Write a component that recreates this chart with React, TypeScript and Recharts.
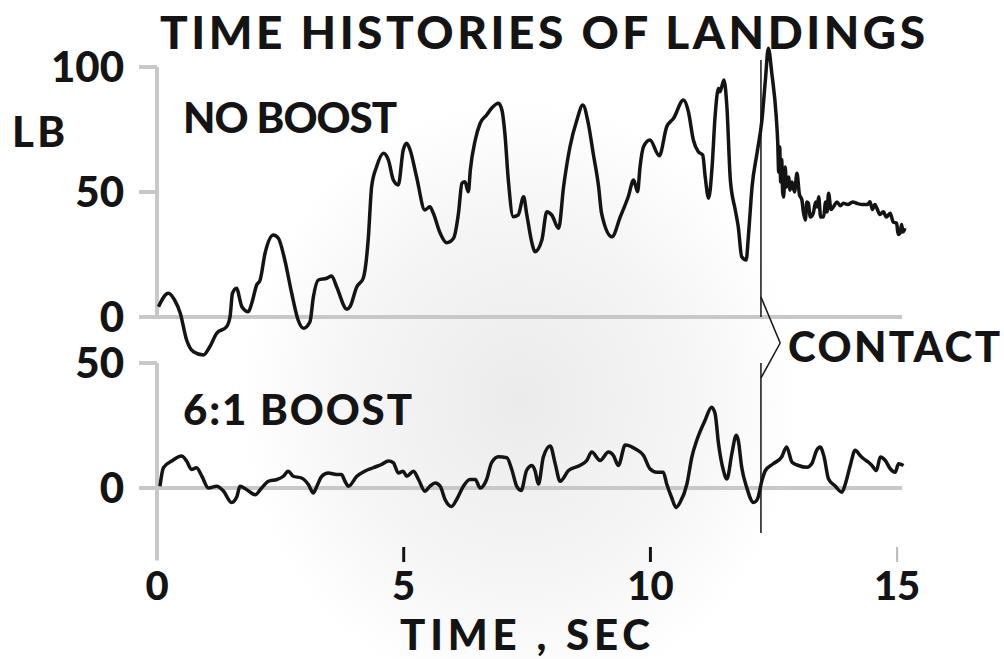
import React from "react";
import { LineChart, Line, XAxis, YAxis, ReferenceLine } from "recharts";

// NO BOOST trace (time in sec, force in lb)
const noBoostT = [
  0.03, 0.23, 0.35, 0.47, 0.6, 0.74, 0.94, 1.07, 1.21, 1.41, 1.48, 1.53, 1.61, 1.72, 1.85, 1.92,
  2.02, 2.09, 2.19, 2.36, 2.46, 2.59, 2.73, 2.86, 2.97, 3.1, 3.17, 3.27, 3.44, 3.54, 3.64, 3.85,
  3.91, 4.05, 4.18, 4.28, 4.35, 4.45, 4.59, 4.69, 4.79, 4.89, 4.99, 5.06, 5.13, 5.26, 5.43, 5.53,
  5.6, 5.74, 5.87, 6.01, 6.11, 6.18, 6.24, 6.31, 6.35, 6.45, 6.55, 6.68, 6.78, 6.92, 6.99, 7.05,
  7.12, 7.22, 7.32, 7.43, 7.49, 7.6, 7.66, 7.8, 7.9, 8.0, 8.14, 8.24, 8.37, 8.51, 8.63, 8.74,
  8.84, 8.95, 9.01, 9.22, 9.39, 9.55, 9.66, 9.74, 9.79, 9.86, 9.99, 10.18, 10.33, 10.47, 10.67, 10.77,
  10.87, 10.97, 11.06, 11.11, 11.18, 11.25, 11.31, 11.38, 11.41, 11.49, 11.55, 11.62, 11.72, 11.78, 11.85, 11.94,
  11.99, 12.06, 12.16, 12.26, 12.33, 12.39, 12.46, 12.55, 12.58, 12.6, 12.62, 12.64, 12.66, 12.68, 12.7, 12.73,
  12.76, 12.8, 12.83, 12.87, 12.92, 12.97, 13.02, 13.07, 13.1, 13.14, 13.17, 13.2, 13.24, 13.3, 13.35, 13.38,
  13.41, 13.45, 13.51, 13.55, 13.58, 13.61, 13.66, 13.71, 13.78, 13.85, 13.91, 14.0, 14.1, 14.18, 14.3, 14.4,
  14.45, 14.5, 14.55, 14.59, 14.65, 14.72, 14.78, 14.86, 14.92, 14.99, 15.02, 15.06, 15.09, 15.12, 15.16,
];
const noBoostLb = [
  4.1, 9.5, 7, 1.6, -9.2, -13.9, -15.2, -11.9, -6.5, -3.9, 0.1, 9.5, 11.5, 4.1, 2.1, 5.5,
  12.8, 14.8, 25.5, 32.8, 31.5, 22.8, 9.5, -1.2, -4.5, -1.9, 8.1, 14.8, 15.5, 16.4, 12.1, 3.1,
  4.1, 12.1, 15.5, 30.8, 52.1, 60.1, 65.5, 62.8, 54.8, 52.8, 66.8, 69.5, 66.8, 56.1, 42.8, 44.1,
  41.5, 33.5, 29.7, 31.5, 41.5, 53.5, 54.1, 50.1, 58.8, 70.8, 77.5, 80.8, 83.5, 85.5, 82.8, 73.5,
  54.8, 40.1, 40.8, 48.1, 41.5, 29.5, 26.1, 30.8, 42.1, 40.8, 35.5, 52.1, 68.1, 78.8, 84.8, 77.5,
  65.5, 52.1, 41.5, 32.1, 40.1, 48.1, 54.8, 50.1, 60.1, 68.1, 70.8, 64.5, 76.1, 79.5, 86.8, 82.1,
  70.8, 66.1, 64.8, 56.1, 47.5, 60.1, 80.1, 91.5, 90.1, 94.8, 84.1, 54.8, 42.8, 36.1, 24.1, 22.8,
  33.5, 52.1, 65.5, 78.8, 94.8, 107.5, 97.5, 80.1, 70, 58, 68, 54, 63, 50, 48, 60,
  52, 56, 50.8, 54, 50, 57.5, 49, 46.8, 42, 38.8, 46, 45.5, 40, 41.5, 46, 44,
  48.1, 40, 40.1, 46, 42, 49.5, 43, 44.1, 46, 44.5, 45.5, 45, 46, 45.5, 45, 45,
  46.1, 43, 45, 43.5, 41, 42.1, 40, 41.5, 38, 37.5, 33, 33.5, 37, 34, 35.5,
];

// 6:1 BOOST trace
const boostT = [
  0.06, 0.13, 0.3, 0.5, 0.6, 0.7, 0.8, 0.91, 1.04, 1.21, 1.35, 1.51, 1.62, 1.68, 1.82, 1.99,
  2.12, 2.26, 2.43, 2.56, 2.66, 2.76, 2.93, 3.07, 3.17, 3.24, 3.34, 3.47, 3.64, 3.74, 3.81, 3.88,
  4.05, 4.21, 4.38, 4.55, 4.69, 4.79, 4.89, 4.99, 5.06, 5.2, 5.3, 5.43, 5.53, 5.64, 5.74, 5.84,
  5.97, 6.07, 6.21, 6.34, 6.45, 6.55, 6.68, 6.78, 6.92, 7.09, 7.19, 7.29, 7.38, 7.49, 7.6, 7.66,
  7.73, 7.83, 7.97, 8.07, 8.17, 8.34, 8.57, 8.71, 8.81, 8.98, 9.15, 9.25, 9.35, 9.49, 9.69, 9.86,
  9.99, 10.13, 10.26, 10.33, 10.43, 10.52, 10.6, 10.74, 10.84, 10.94, 11.11, 11.24, 11.31, 11.38, 11.48, 11.55,
  11.65, 11.74, 11.78, 11.85, 11.95, 12.09, 12.17, 12.26, 12.33, 12.49, 12.66, 12.76, 12.87, 13.0, 13.17, 13.27,
  13.37, 13.44, 13.52, 13.61, 13.74, 13.88, 13.95, 14.05, 14.15, 14.25, 14.32, 14.42, 14.49, 14.58, 14.66, 14.76,
  14.86, 14.96, 15.03, 15.13,
];
const boostLb = [
  0.7, 8.1, 10.8, 12.8, 10.8, 7.4, 8.1, 4.7, 0, 0.7, -1.3, -5.8, -3.4, 0.7, -0.7, -2.7,
  0, 2.7, 3.4, 4.7, 6.7, 4.7, 4.0, 1.3, -2.0, 0.7, 4.7, 6.0, 5.4, 5.4, 2.7, 0.7,
  4.7, 6.7, 8.1, 9.4, 10.8, 10.1, 6.0, 6.7, 4.7, 6.7, 3.4, -1.3, 0.7, 2.0, 0.7, -4.7,
  -7.4, -4.7, 0.7, 3.4, 3.4, 0, 3.4, 10.1, 12.5, 12.1, 7.4, 0.7, -1.0, 7.0, 9.0, 7.0,
  1.6, 12.4, 16.8, 9.7, 2.7, 7.0, 9.0, 11.0, 14.4, 11.0, 14.4, 13.0, 9.0, 17.2, 15.7, 13.0,
  7.7, 6.3, 6.3, 1.6, -3.8, -7.8, -5.8, 1.6, 12.4, 19.1, 27.2, 32.3, 29.8, 17.7, 7.0, 3.6,
  13.7, 21.1, 19.1, 8.3, 0.3, -5.8, -4.4, 3.0, 7.0, 9.7, 12.4, 16.4, 10.3, 9.0, 8.3, 9.7,
  15.1, 16.4, 12.4, 3.6, 0.9, -1.7, 1.6, 9.0, 15.1, 13.0, 11.7, 10.3, 9.0, 7.0, 12.4, 11.0,
  7.7, 6.3, 9.7, 9.0,
];

const xTicks = [0, 5, 10, 15];
const topTicks = [0, 50, 100];
const bottomTicks = [0, 50];
const CONTACT_T = 12.24;

const FONT = "Lato, 'DejaVu Sans', sans-serif";
const INK = "#141414";
const AXIS = "#c8c8c8";

const noBoost = noBoostT.map((t, i) => ({ t, lb: noBoostLb[i] }));
const boost = boostT.map((t, i) => ({ t, lb: boostLb[i] }));

const YTick = (p: any) => {
  const { x, y, payload } = p;
  return (
    <g>
      <line x1={x - 18} x2={x} y1={y} y2={y} stroke={AXIS} strokeWidth={4} />
      <text x={x - 33} y={y + 15} textAnchor="end" fontFamily={FONT} fontWeight={900} fontSize={42} fill={INK}>
        {payload.value}
      </text>
    </g>
  );
};

const XTick = (p: any) => {
  const { x, y, payload } = p;
  const v = payload.value;
  const faint = v === 15;
  return (
    <g>
      {v !== 0 && (
        <line x1={x} x2={x} y1={y - 16} y2={y - 1} stroke={faint ? "#b8b8b8" : INK} strokeWidth={faint ? 2 : 3} />
      )}
      <text x={x} y={y + 37} textAnchor="middle" fontFamily={FONT} fontWeight={900} fontSize={40} fill={INK}>
        {v}
      </text>
    </g>
  );
};

const label = (s: string, x: number, y: number, size: number, len: number) => (
  <text x={x} y={y} fontFamily={FONT} fontWeight={900} fontSize={size} fill={INK} textLength={len}>
    {s}
  </text>
);

export default function App() {
  return (
    <div
      style={{
        position: "absolute",
        left: 0,
        top: 0,
        width: 1004,
        height: 659,
        background: "radial-gradient(ellipse 280px 300px at 520px 400px, #ebebeb 0%, #f5f5f5 60%, #ffffff 100%)",
        fontFamily: FONT,
      }}
    >
      {/* 6:1 BOOST panel, carries the time axis */}
      <div style={{ position: "absolute", left: 0, top: 0 }}>
        <LineChart width={1004} height={659} data={boost} margin={{ top: 363, right: 97, bottom: 16, left: 97 }}>
          <XAxis
            type="number"
            dataKey="t"
            domain={[0, 15.2]}
            ticks={xTicks}
            interval={0}
            axisLine={false}
            tickLine={false}
            tickSize={0}
            tickMargin={0}
            height={80}
            tick={<XTick />}
          />
          <YAxis
            type="number"
            domain={[-30, 50]}
            ticks={bottomTicks}
            interval={0}
            width={60}
            axisLine={false}
            tickLine={false}
            tickSize={0}
            tickMargin={0}
            tick={<YTick />}
          />
          <ReferenceLine segment={[{ x: 0, y: 0 }, { x: 15.1, y: 0 }]} stroke={AXIS} strokeWidth={4} />
          <ReferenceLine segment={[{ x: 0, y: -29 }, { x: 0, y: 50 }]} stroke={AXIS} strokeWidth={4} />
          <ReferenceLine segment={[{ x: CONTACT_T, y: 50 }, { x: CONTACT_T, y: -18 }]} stroke={INK} strokeWidth={1.5} />
          <Line type="monotone" dataKey="lb" stroke={INK} strokeWidth={3.5} dot={false} isAnimationActive={false} />
        </LineChart>
      </div>

      {/* NO BOOST panel */}
      <div style={{ position: "absolute", left: 0, top: 0 }}>
        <LineChart width={1004} height={659} data={noBoost} margin={{ top: 29.5, right: 97, bottom: 297, left: 97 }}>
          <XAxis type="number" dataKey="t" domain={[0, 15.2]} hide height={0} />
          <YAxis
            type="number"
            domain={[-18, 115]}
            ticks={topTicks}
            interval={0}
            width={60}
            axisLine={false}
            tickLine={false}
            tickSize={0}
            tickMargin={0}
            tick={<YTick />}
          />
          <ReferenceLine segment={[{ x: 0, y: 0 }, { x: 15.1, y: 0 }]} stroke={AXIS} strokeWidth={4} />
          <ReferenceLine segment={[{ x: 0, y: 0 }, { x: 0, y: 100 }]} stroke={AXIS} strokeWidth={4} />
          <ReferenceLine segment={[{ x: CONTACT_T, y: 102.8 }, { x: CONTACT_T, y: 0 }]} stroke={INK} strokeWidth={1.5} />
          <ReferenceLine
            segment={[{ x: CONTACT_T, y: 8 }, { x: 12.63, y: -10.4 }]}
            stroke={INK}
            strokeWidth={1.5}
            ifOverflow="visible"
          />
          <ReferenceLine
            segment={[{ x: 12.63, y: -10.4 }, { x: CONTACT_T, y: -24.4 }]}
            stroke={INK}
            strokeWidth={1.5}
            ifOverflow="visible"
          />
          <Line type="monotone" dataKey="lb" stroke={INK} strokeWidth={3.5} dot={false} isAnimationActive={false} />
        </LineChart>
      </div>

      {/* titles and labels */}
      <svg width={1004} height={659} style={{ position: "absolute", left: 0, top: 0, pointerEvents: "none" }}>
        {label("TIME HISTORIES OF LANDINGS", 160, 49, 46, 765)}
        {label("LB", 12, 147, 42, 53)}
        {label("NO BOOST", 183, 133, 42, 214)}
        {label("6:1 BOOST", 183, 425, 42, 229)}
        {label("CONTACT", 788, 362, 42, 212)}
        {label("TIME , SEC", 400, 650, 42, 250)}
      </svg>
    </div>
  );
}
